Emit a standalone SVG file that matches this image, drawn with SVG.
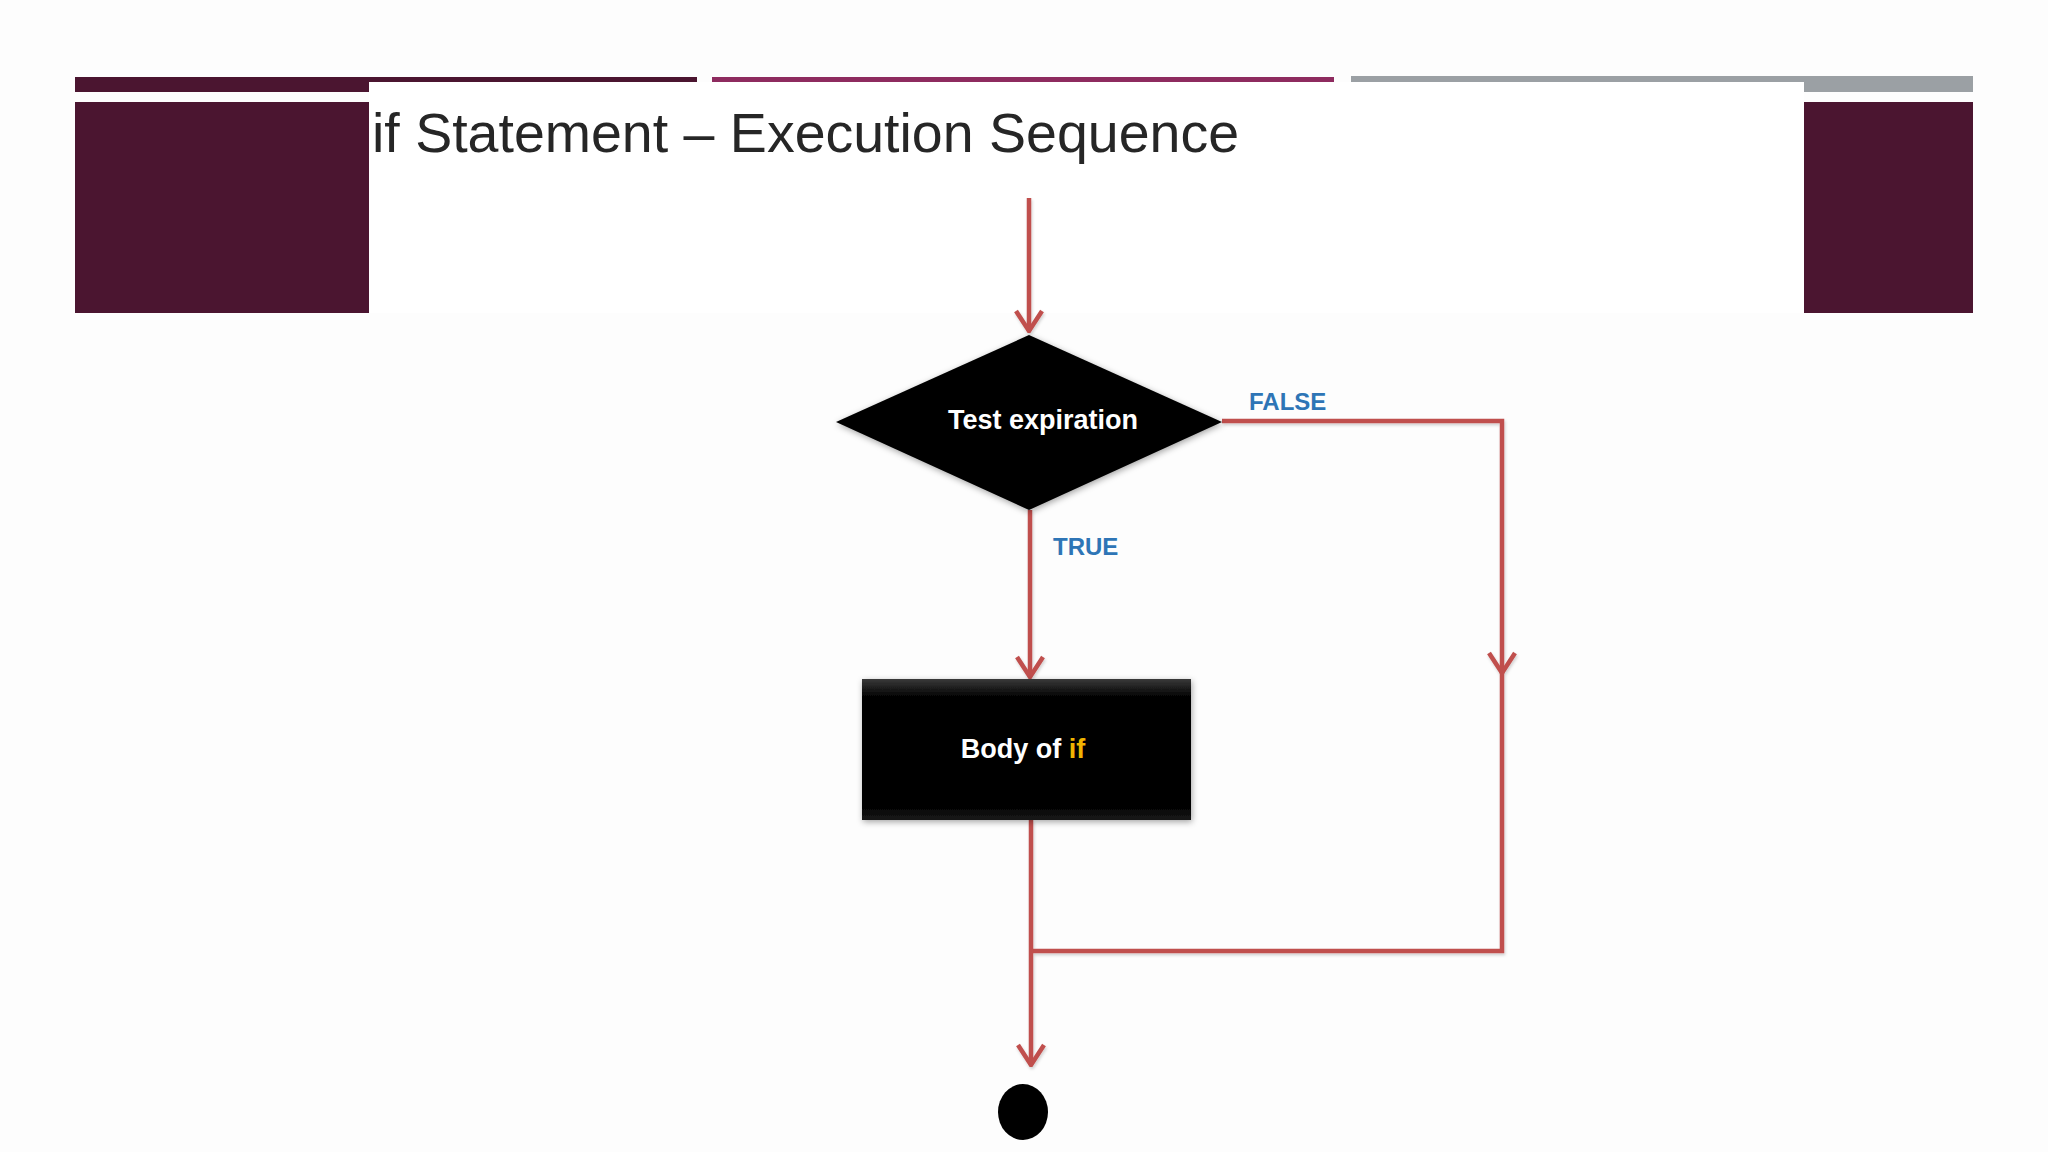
<svg xmlns="http://www.w3.org/2000/svg" width="2048" height="1152" viewBox="0 0 2048 1152">
  <defs>
    <style>
      .bg { fill: #fdfdfd; }
      .maroon { fill: #4b1530; }
      .magenta { fill: #8e2b5f; }
      .gray { fill: #9ba0a4; }
      .title { font-family: "Liberation Sans", Arial, sans-serif; font-size: 56px; fill: #262626; }
      .conn { fill: none; stroke: #c0504d; stroke-width: 4.5; stroke-linejoin: miter; }
      .lbl { font-family: "Liberation Sans", Arial, sans-serif; font-weight: bold; font-size: 24px; fill: #2e75b6; }
      .ntext { font-family: "Liberation Sans", Arial, sans-serif; font-weight: bold; font-size: 27px; fill: #ffffff; }
      .kw { fill: #f0b400; }
    </style>
    <marker id="arrow" viewBox="0 0 24 30" refX="22" refY="15" markerWidth="24" markerHeight="30" markerUnits="userSpaceOnUse" orient="auto">
      <path d="M2,2 L22,15 L2,28" fill="none" stroke="#c0504d" stroke-width="4.5"/>
    </marker>
    <filter id="shadow" x="-20%" y="-20%" width="140%" height="140%">
      <feDropShadow dx="1" dy="2" stdDeviation="3" flood-color="#000" flood-opacity="0.35"/>
    </filter>
    <filter id="lshadow" x="-5%" y="-5%" width="110%" height="110%">
      <feDropShadow dx="1" dy="2" stdDeviation="1.5" flood-color="#000" flood-opacity="0.18"/>
    </filter>
    <linearGradient id="boxgrad" x1="0" y1="0" x2="0" y2="1">
      <stop offset="0" stop-color="#3a3a3a"/>
      <stop offset="0.12" stop-color="#050505"/>
      <stop offset="0.9" stop-color="#000000"/>
      <stop offset="1" stop-color="#1a1a1a"/>
    </linearGradient>
  </defs>

  <rect class="bg" x="0" y="0" width="2048" height="1152"/>

  <g id="slide-frame">
    <rect class="maroon" x="75" y="77" width="622" height="5"/>
    <rect class="maroon" x="75" y="77" width="294" height="15"/>
    <rect class="magenta" x="712" y="77" width="622" height="5"/>
    <rect class="gray" x="1351" y="76" width="622" height="6"/>
    <rect class="gray" x="1804" y="76" width="169" height="16"/>
    <rect class="maroon" x="75" y="102" width="294" height="211"/>
    <rect class="maroon" x="1804" y="102" width="169" height="211"/>
    <rect x="369" y="82" width="1435" height="231" fill="#ffffff"/>
  </g>

  <g id="title">
    <text class="title" x="372" y="152" textLength="867" lengthAdjust="spacingAndGlyphs">if Statement – Execution Sequence</text>
  </g>

  <g id="connectors" filter="url(#lshadow)">
    <path class="conn" d="M1029,198 V331" marker-end="url(#arrow)"/>
    <path class="conn" d="M1030,510 V677" marker-end="url(#arrow)"/>
    <path class="conn" d="M1222,421 H1502 V673" marker-end="url(#arrow)"/>
    <path class="conn" d="M1502,670 V951 H1031"/>
    <path class="conn" d="M1031,820 V1065" marker-end="url(#arrow)"/>
  </g>

  <g id="label-false">
    <text class="lbl" x="1249" y="410">FALSE</text>
  </g>
  <g id="label-true">
    <text class="lbl" x="1053" y="555">TRUE</text>
  </g>

  <g id="node-test">
    <polygon points="1029,335 1222,422 1029,510 836,422" fill="#000000" filter="url(#shadow)"/>
    <text class="ntext" x="1043" y="429" text-anchor="middle">Test expiration</text>
  </g>

  <g id="node-body">
    <rect x="862" y="679" width="329" height="141" fill="url(#boxgrad)" filter="url(#shadow)"/>
    <text class="ntext" x="1023" y="758" text-anchor="middle">Body of <tspan class="kw">if</tspan></text>
  </g>

  <g id="node-end">
    <ellipse cx="1023" cy="1112" rx="25" ry="28" fill="#000000"/>
  </g>
</svg>
